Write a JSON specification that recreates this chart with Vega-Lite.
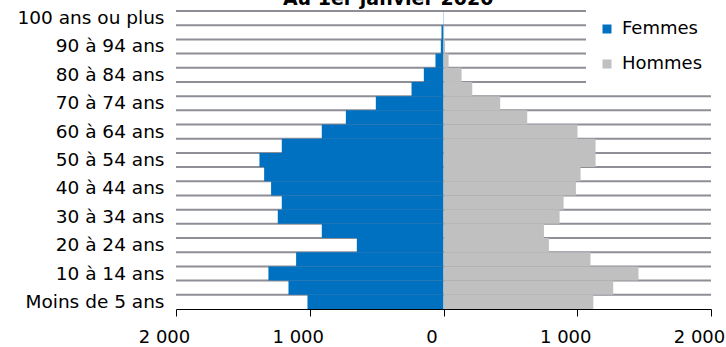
{
  "$schema": "https://vega.github.io/schema/vega-lite/v6.json",
  "width": 535,
  "height": 298,
  "autosize": {"type": "none"},
  "padding": {"left": 176, "top": 11, "right": 15, "bottom": 38},
  "background": "white",
  "config": {"view": {"stroke": null}, "font": "DejaVu Sans"},
  "data": {"values": [
    {"age": "Moins de 5 ans", "Femmes": -1017, "Hommes": 1120},
    {"age": "5 à 9 ans", "Femmes": -1159, "Hommes": 1269},
    {"age": "10 à 14 ans", "Femmes": -1309, "Hommes": 1458},
    {"age": "15 à 19 ans", "Femmes": -1102, "Hommes": 1099},
    {"age": "20 à 24 ans", "Femmes": -648, "Hommes": 788},
    {"age": "25 à 29 ans", "Femmes": -910, "Hommes": 751},
    {"age": "30 à 34 ans", "Femmes": -1239, "Hommes": 868},
    {"age": "35 à 39 ans", "Femmes": -1209, "Hommes": 898},
    {"age": "40 à 44 ans", "Femmes": -1289, "Hommes": 990},
    {"age": "45 à 49 ans", "Femmes": -1341, "Hommes": 1025},
    {"age": "50 à 54 ans", "Femmes": -1376, "Hommes": 1137},
    {"age": "55 à 59 ans", "Femmes": -1209, "Hommes": 1137},
    {"age": "60 à 64 ans", "Femmes": -910, "Hommes": 1002},
    {"age": "65 à 69 ans", "Femmes": -730, "Hommes": 626},
    {"age": "70 à 74 ans", "Femmes": -506, "Hommes": 424},
    {"age": "75 à 79 ans", "Femmes": -239, "Hommes": 215},
    {"age": "80 à 84 ans", "Femmes": -147, "Hommes": 135},
    {"age": "85 à 89 ans", "Femmes": -60, "Hommes": 38},
    {"age": "90 à 94 ans", "Femmes": -20, "Hommes": 12},
    {"age": "95 à 99 ans", "Femmes": -15, "Hommes": 5},
    {"age": "100 ans ou plus", "Femmes": -2, "Hommes": 0}
  ]},
  "encoding": {
    "y": {
      "field": "age",
      "type": "nominal",
      "sort": ["100 ans ou plus", "95 à 99 ans", "90 à 94 ans", "85 à 89 ans", "80 à 84 ans", "75 à 79 ans", "70 à 74 ans", "65 à 69 ans", "60 à 64 ans", "55 à 59 ans", "50 à 54 ans", "45 à 49 ans", "40 à 44 ans", "35 à 39 ans", "30 à 34 ans", "25 à 29 ans", "20 à 24 ans", "15 à 19 ans", "10 à 14 ans", "5 à 9 ans", "Moins de 5 ans"],
      "scale": {"paddingInner": 0, "paddingOuter": 0},
      "axis": {
        "title": null,
        "values": ["100 ans ou plus", "90 à 94 ans", "80 à 84 ans", "70 à 74 ans", "60 à 64 ans", "50 à 54 ans", "40 à 44 ans", "30 à 34 ans", "20 à 24 ans", "10 à 14 ans", "Moins de 5 ans"],
        "domain": false,
        "ticks": false,
        "grid": false,
        "labelFontSize": 18.5,
        "labelColor": "black",
        "labelPadding": 12,
        "labelLimit": 300
      }
    }
  },
  "layer": [
    {
      "mark": {"type": "rule", "color": "#8e8e96", "strokeWidth": 2},
      "encoding": {
        "y": {"field": "age", "type": "nominal", "bandPosition": 0},
        "x": {"datum": -2000},
        "x2": {"datum": 2000}
      }
    },
    {
      "mark": {"type": "bar"},
      "encoding": {
        "x": {
          "field": "Femmes",
          "type": "quantitative",
          "scale": {"domain": [-2000, 2000], "nice": false, "zero": false},
          "axis": {
            "title": null,
            "values": [-2000, -1000, 0, 1000, 2000],
            "labelExpr": "replace(format(abs(datum.value), ','), ',', ' ')",
            "grid": false,
            "domainColor": "black",
            "domainWidth": 1,
            "tickColor": "black",
            "tickSize": 7,
            "labelFontSize": 18,
            "labelColor": "black",
            "labelPadding": 12,
            "labelFlush": false,
            "labelOffset": -12
          }
        },
        "color": {
          "datum": "Femmes",
          "type": "nominal",
          "scale": {"domain": ["Femmes", "Hommes"], "range": ["#0070C0", "#C0C0C0"]},
          "legend": {
            "title": null,
            "orient": "none",
            "legendX": 410,
            "legendY": -1,
            "padding": 10,
            "symbolOffset": 2,
            "fillColor": "white",
            "symbolType": "square",
            "symbolSize": 81,
            "symbolStrokeWidth": 0,
            "labelFontSize": 18,
            "labelColor": "black",
            "labelOffset": 6,
            "rowPadding": 17
          }
        }
      }
    },
    {
      "mark": {"type": "bar"},
      "encoding": {
        "x": {"field": "Hommes", "type": "quantitative"},
        "color": {"datum": "Hommes", "type": "nominal"}
      }
    },
    {
      "mark": {"type": "rule", "color": "black", "strokeWidth": 1},
      "encoding": {"x": {"datum": 0}}
    },
    {
      "data": {"values": [{"titre": "Au 1er janvier 2020"}]},
      "mark": {"type": "text", "font": "DejaVu Sans", "fontSize": 19, "fontWeight": "bold", "color": "black", "align": "center", "baseline": "alphabetic", "dy": -13.5},
      "encoding": {
        "text": {"field": "titre", "type": "nominal"},
        "x": {"datum": -414, "type": "quantitative"},
        "y": {"datum": "100 ans ou plus", "type": "nominal"}
      }
    }
  ]
}
